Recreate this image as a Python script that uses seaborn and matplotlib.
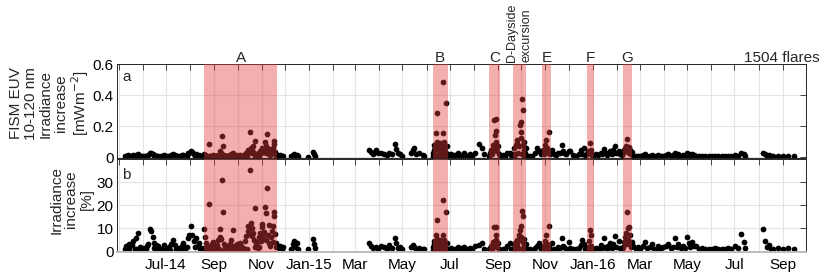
import matplotlib
matplotlib.use('Agg')
import matplotlib.pyplot as plt
import matplotlib.dates as mdates
from matplotlib.ticker import FuncFormatter
import seaborn as sns
import pandas as pd

# flare dates as days after 2014-05-01
flare_day = [
    # before A
    8, 10, 12, 14, 17, 19, 21, 23, 25, 27, 29, 31, 33, 36, 38, 40, 42, 44, 46, 48,
    51, 54, 57, 59, 62, 65, 68, 70, 72, 75, 78, 81, 83, 86, 89, 91, 93, 95, 97, 100,
    102, 104, 107, 109,
    9, 13, 22, 30, 35, 45, 50, 55, 60, 66, 74, 80, 85, 88, 98, 105,
    # A
    110, 111, 112, 113, 114, 116, 117, 118, 120, 121,
    122, 124, 125, 127, 128, 130, 131, 132, 133, 134,
    135, 137, 139, 141, 143, 145, 147, 148, 150, 152,
    154, 156, 158, 160, 162, 164, 166, 167, 168, 169,
    170, 171, 172, 173, 174, 175, 176, 177, 178, 180,
    181, 182, 183, 184, 185, 186, 187, 188, 189, 190,
    191, 192, 193, 194, 195, 196, 197, 198, 199, 199.5,
    200, 201, 202, 203,
    115, 119, 123, 126, 129, 136, 138, 140, 142, 144,
    146, 149, 151, 153, 155, 157, 159, 161, 163, 165, 179,
    # after A
    206, 208, 210, 212, 222, 224, 225, 227, 229, 231, 244, 250, 251, 252,
    # spring 2015
    322, 325, 327, 331, 334, 337, 341, 345, 348, 351,
    355, 357, 359, 362, 364, 376, 378, 380, 383, 386, 391, 393,
    # B
    404, 405, 406, 407, 408, 409, 410, 411, 412, 413,
    414, 415, 416, 417, 417.5, 418, 419, 420, 421, 422,
    423, 404.5, 409.5, 414.5, 419.5,
    # after B
    426, 428, 430, 433, 436, 438, 441, 444, 446, 449, 452, 455, 459, 463, 468, 470,
    # C
    477, 478, 479, 480, 481, 482, 483, 483.5, 484, 485, 485.5, 486, 487, 488, 489, 490,
    494, 497, 500, 503, 505,
    # D
    507, 509, 511, 512, 513, 515, 516, 517, 517.5, 518,
    519, 519.5, 520, 521, 522, 523, 524, 508, 510, 514, 518.5, 521.5,
    527, 529, 532, 536, 538, 541, 543,
    # E
    545, 546, 547, 548, 549, 550, 551, 552, 553, 554, 555,
    558, 560, 562, 565, 568, 570, 571, 573, 576, 579,
    581, 584, 588, 592, 595, 596, 598, 600,
    # F
    603, 604, 605, 606, 607, 608, 609, 610,
    614, 617, 620, 622, 624, 626, 628, 630, 632, 634, 636, 638, 640, 643, 645, 647,
    # G
    649, 650, 651, 652, 653, 654, 654.5, 655, 656, 657, 658, 659, 660,
    # after G
    662, 665, 668, 671, 674, 677, 680, 683, 686, 689,
    692, 694, 697, 700, 704, 707, 710, 713, 716, 718,
    720, 723, 726, 729, 731, 733, 735, 737, 740, 742,
    746, 750, 754, 759, 763, 767, 771, 776, 780, 784,
    788, 793, 797, 801, 804, 806, 829, 831, 834, 836,
    839, 842, 848, 855, 861, 868,
]

# FISM EUV 10-120 nm irradiance increase [mW m^-2]
euv_abs = [
    .006, .010, .014, .008, .012, .018, .010, .016, .020, .012, .008, .010, .006, .012, .018,
    .030, .026, .022, .016, .012, .008, .006, .010, .014, .008, .010, .016, .020, .014, .008,
    .010, .014, .018, .012, .026, .030, .040, .034, .022, .020, .012, .016, .010, .008,
    .004, .006, .008, .005, .008, .010, .006, .004, .006, .005, .006, .006, .008, .012, .010, .006,
    .020, .015, .010, .008, .012, .087, .010, .006, .012, .008,
    .015, .010, .006, .012, .018, .020, .040, .025, .138, .076,
    .015, .010, .012, .006, .014, .020, .030, .012, .008, .014,
    .010, .016, .012, .008, .020, .028, .040, .050, .035, .160,
    .060, .045, .030, .070, .025, .106, .012, .018, .020, .012,
    .030, .040, .025, .050, .060, .035, .045, .100, .075, .030,
    .149, .040, .055, .020, .015, .030, .045, .025, .063, .085,
    .106, .035, .020, .012,
    .004, .005, .006, .004, .006, .005, .004, .006, .005, .004,
    .006, .005, .004, .006, .005, .004, .006, .005, .004, .006, .008,
    .010, .015, .008, .012, .010, .015, .020, .012, .018, .008, .005, .035, .020, .010,
    .045, .037, .020, .048, .025, .030, .020, .015, .027, .020,
    .085, .053, .030, .020, .012, .030, .045, .059, .020, .025, .015, .010,
    .030, .050, .080, .060, .155, .288, .100, .070, .040, .090,
    .060, .030, .080, .483, .159, .100, .060, .040, .352, .070,
    .020, .010, .015, .012, .010,
    .012, .020, .010, .015, .025, .012, .018, .030, .015, .010, .020, .012, .030, .087, .060, .020,
    .010, .030, .050, .020, .080, .040, .240, .145, .060, .245, .172, .100, .040, .070, .020, .010,
    .015, .010, .025, .030, .015,
    .020, .060, .080, .091, .112, .070, .210, .230, .166, .123,
    .374, .305, .080, .050, .100, .030, .060, .010, .020, .030, .020, .010,
    .010, .012, .010, .030, .059, .040, .020,
    .030, .050, .020, .040, .080, .112, .060, .030, .166, .040, .020,
    .048, .020, .015, .030, .025, .080, .040, .030, .020, .040,
    .040, .015, .010, .020, .048, .020, .059, .015,
    .020, .040, .030, .095, .048, .030, .015, .010,
    .020, .015, .030, .020, .053, .025, .015, .030, .040, .020, .048, .070, .030, .040, .020, .015,
    .030, .050, .060, .040, .070, .117, .060, .045, .030, .065, .050, .020, .035,
    .010, .008, .012, .010, .015, .020, .010, .012, .018, .010,
    .008, .014, .010, .012, .016, .020, .012, .015, .030, .012,
    .020, .010, .016, .012, .030, .020, .012, .024, .015, .010,
    .008, .010, .008, .009, .008, .010, .008, .010, .008, .012,
    .010, .015, .012, .025, .020, .012, .030, .020, .012, .015,
    .008, .010, .008, .010, .008, .008,
]

# irradiance increase [%]
euv_pct = [
    1.0, 2.2, 1.6, 3.0, 2.9, 4.3, 1.2, 5.9, 7.8, 2.0, 0.8, 1.5, 1.0, 2.4, 3.2,
    9.7, 8.7, 6.2, 3.8, 2.6, 2.2, 1.0, 1.6, 2.9, 1.2, 1.8, 3.0, 5.1, 2.9, 1.0,
    1.6, 2.4, 3.6, 2.0, 5.8, 7.0, 11.1, 7.2, 4.4, 5.8, 2.2, 3.8, 1.4, 1.0,
    0.6, 0.9, 1.0, 0.5, 1.2, 1.6, 0.8, 0.5, 0.7, 0.6, 0.8, 0.7, 1.1, 2.0, 1.8, 0.9,
    9.6, 6.0, 3.5, 1.5, 2.5, 20.6, 2.0, 0.8, 3.0, 1.5,
    4.0, 2.2, 1.0, 2.8, 5.0, 6.0, 9.8, 5.5, 30.9, 16.9,
    3.0, 1.8, 2.5, 1.0, 3.2, 4.8, 9.1, 2.5, 1.2, 3.0,
    2.0, 3.5, 2.4, 1.4, 4.5, 6.5, 9.0, 11.0, 7.5, 35.2,
    12.4, 10.0, 6.5, 8.0, 5.0, 18.9, 2.0, 3.5, 4.0, 2.0,
    6.0, 8.0, 4.5, 10.5, 12.0, 6.0, 8.5, 19.3, 16.6, 5.0,
    27.6, 7.0, 11.5, 3.5, 2.5, 6.0, 9.0, 4.0, 11.1, 15.2,
    16.9, 7.5, 3.5, 2.0,
    0.5, 0.8, 1.0, 0.4, 1.2, 0.6, 0.4, 1.0, 0.8, 0.5,
    1.2, 0.6, 0.5, 1.0, 0.7, 0.4, 1.1, 0.8, 0.5, 1.2, 1.5,
    1.5, 2.5, 1.0, 2.0, 1.2, 3.0, 4.5, 2.0, 3.8, 1.0, 1.0, 5.4, 3.0, 1.5,
    3.6, 2.3, 1.5, 1.9, 1.2, 2.3, 1.8, 1.0, 2.9, 1.5,
    5.8, 3.6, 1.5, 2.0, 1.0, 2.0, 2.9, 2.0, 1.2, 1.5, 1.2, 0.8,
    2.0, 3.0, 4.5, 3.5, 6.9, 13.4, 5.5, 4.0, 2.5, 5.0,
    3.0, 1.5, 4.0, 22.4, 7.2, 5.0, 3.0, 2.0, 17.2, 3.5,
    1.0, 0.5, 0.8, 0.6, 0.5,
    1.0, 1.5, 0.6, 1.2, 2.0, 0.8, 1.3, 2.0, 1.0, 0.8, 1.5, 0.9, 2.5, 2.9, 3.5, 1.0,
    0.8, 1.5, 2.5, 1.2, 4.0, 2.0, 10.4, 4.6, 3.0, 10.4, 7.2, 5.0, 2.0, 3.5, 1.0, 0.6,
    1.0, 0.8, 2.3, 3.5, 1.2,
    1.0, 3.0, 4.0, 5.1, 3.0, 7.2, 9.4, 10.8, 6.0, 5.0,
    17.6, 15.2, 4.0, 2.5, 5.5, 1.5, 3.0, 0.6, 1.0, 1.5, 1.0, 0.5,
    0.8, 1.0, 0.6, 1.5, 2.3, 3.6, 1.0,
    1.5, 2.5, 1.0, 2.0, 4.6, 6.9, 3.0, 1.5, 11.1, 2.0, 1.0,
    3.6, 1.2, 1.0, 1.8, 1.5, 5.8, 2.5, 2.0, 1.2, 4.1,
    1.5, 1.0, 0.8, 1.5, 2.9, 5.1, 3.0, 1.0,
    1.0, 2.0, 4.3, 9.4, 6.9, 2.5, 1.0, 0.6,
    1.5, 1.0, 2.9, 1.5, 5.8, 2.0, 1.0, 2.2, 3.5, 1.5, 3.0, 6.8, 2.0, 4.3, 1.5, 1.0,
    2.0, 4.0, 6.0, 3.0, 8.0, 16.9, 10.1, 5.0, 3.0, 10.4, 7.0, 2.0, 4.0,
    2.2, 1.2, 1.8, 1.0, 2.5, 4.1, 1.5, 2.0, 3.0, 1.2,
    1.0, 2.2, 1.5, 1.8, 2.5, 3.0, 1.6, 2.0, 5.8, 1.8,
    3.0, 1.5, 2.5, 1.5, 6.1, 3.6, 2.0, 4.1, 2.5, 2.2,
    1.2, 1.6, 1.0, 1.2, 1.0, 1.4, 1.0, 1.2, 1.0, 1.6,
    1.2, 2.2, 1.5, 7.5, 4.1, 1.6, 9.8, 4.3, 2.0, 2.9,
    1.0, 1.2, 1.6, 1.2, 1.4, 1.2,
]

# highlighted intervals
region_labels = ['A', 'B', 'C', 'D-Dayside\nexcursion', 'E', 'F', 'G']
region_start = ['2014-08-19', '2015-06-09', '2015-08-21', '2015-09-20', '2015-10-28', '2015-12-24', '2016-02-09']
region_end = ['2014-11-21', '2015-06-28', '2015-09-03', '2015-10-07', '2015-11-08', '2016-01-02', '2016-02-20']

df = pd.DataFrame({'day': flare_day, 'euv_abs': euv_abs, 'euv_pct': euv_pct})
df['date'] = pd.Timestamp('2014-05-01') + pd.to_timedelta(df['day'], unit='D')

sns.set_style('white')
plt.rcParams['font.family'] = ['Liberation Sans', 'DejaVu Sans']

fig = plt.figure(figsize=(8.3, 2.77), dpi=100)
ax_a = fig.add_axes([117/830, 1-158/277, 689/830, 94/277])
ax_b = fig.add_axes([117/830, 1-252/277, 689/830, 93/277])

sns.scatterplot(data=df, x='date', y='euv_abs', ax=ax_a, color='black', s=17, linewidth=0, zorder=2)
sns.scatterplot(data=df, x='date', y='euv_pct', ax=ax_b, color='black', s=17, linewidth=0, zorder=2)

shade = (0.894, 0.243, 0.243)
for ax in (ax_a, ax_b):
    for s, e in zip(region_start, region_end):
        ax.axvspan(pd.Timestamp(s), pd.Timestamp(e), color=shade, alpha=0.42, lw=0, zorder=3)

def month_label(x, pos):
    d = mdates.num2date(x)
    if d.month % 2 == 0 or (d.year == 2014 and d.month == 5):
        return ''
    if d.month == 1 or (d.year == 2014 and d.month == 7):
        return d.strftime('%b-%y')
    return d.strftime('%b')

for ax in (ax_a, ax_b):
    ax.set_xlim(pd.Timestamp('2014-04-29'), pd.Timestamp('2016-10-01'))
    ax.xaxis.set_major_locator(mdates.MonthLocator())
    ax.xaxis.set_major_formatter(FuncFormatter(month_label))
    ax.yaxis.set_major_formatter(FuncFormatter(lambda v, p: f'{v:g}'))
    ax.grid(True, color='#e4e4e4', lw=0.8)
    ax.set_axisbelow(True)
    ax.tick_params(direction='in', length=4.5, width=0.6, top=True, right=True,
                   labelsize=11, colors='#262626', labelcolor='black')
    ax.tick_params(axis='x', pad=4)
    ax.tick_params(axis='y', pad=2.5)
    ax.set_xlabel('')
    ax.set_ylabel('')
    for sp in ax.spines.values():
        sp.set_color('#262626')
        sp.set_linewidth(0.7)

ax_b.spines['bottom'].set_color('#bdbdbd')
ax_b.spines['bottom'].set_linewidth(1.4)

ax_a.set_ylim(-0.004, 0.6)
ax_a.set_yticks([0, 0.2, 0.4, 0.6])
ax_a.tick_params(labelbottom=False)
ax_b.set_ylim(-0.3, 40)
ax_b.set_yticks([0, 10, 20, 30])

ax_a.text(0.008, 0.865, 'a', transform=ax_a.transAxes, fontsize=11, ha='left', va='center')
ax_b.text(0.008, 0.828, 'b', transform=ax_b.transAxes, fontsize=11, ha='left', va='center')

top = ax_a.get_xaxis_transform()
for lab, s, e in zip(region_labels, region_start, region_end):
    mid = pd.Timestamp(s) + (pd.Timestamp(e) - pd.Timestamp(s)) / 2
    if '\n' in lab:
        ax_a.text(mid, 1.02, lab, transform=top, rotation=90, fontsize=9, ha='center',
                  va='bottom', multialignment='left', linespacing=1.3)
    else:
        ax_a.text(mid, 1.02, lab, transform=top, fontsize=11, ha='center', va='baseline')
ax_a.text(1.0203, 1.02, '1504 flares', transform=ax_a.transAxes, fontsize=11, ha='right', va='baseline')

fig.text(50/830, 1-103.5/277, 'FISM EUV\n10-120 nm\nIrradiance\nincrease\n[mWm$^{-2}$]',
         rotation=90, ha='center', va='center', fontsize=11, linespacing=1.1)
fig.text(71.5/830, 1-199.5/277, 'Irradiance\nincrease\n[%]',
         rotation=90, ha='center', va='center', fontsize=11, linespacing=1.1)

plt.savefig('out.png', dpi=100)
plt.close()
